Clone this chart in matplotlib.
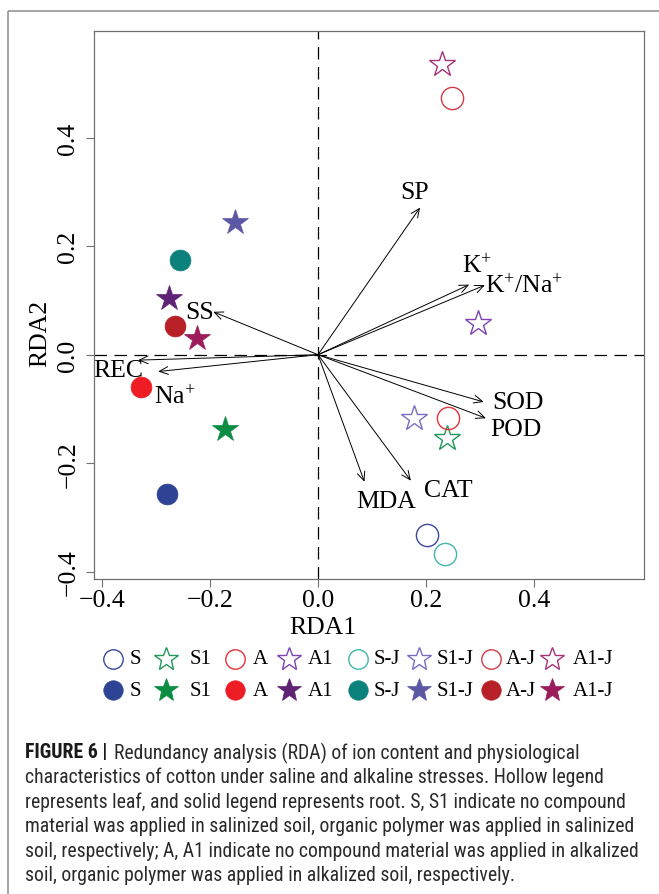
import matplotlib
matplotlib.use('Agg')
import matplotlib.pyplot as plt
from matplotlib import font_manager
from matplotlib.patches import Rectangle

# ---------------- data ----------------
groups = ['S', 'S1', 'A', 'A1', 'S-J', 'S1-J', 'A-J', 'A1-J']
group_markers = ['o', '*', 'o', '*', 'o', '*', 'o', '*']
leaf_colors = ['#3a48a0', '#22985a', '#e53238', '#7c44b4', '#40b8aa', '#7d6cc4', '#d03a48', '#a83478']
root_colors = ['#2f4394', '#0b8c43', '#ee1c25', '#5e2374', '#0b817c', '#5d58a3', '#b72026', '#9b1b5b']

# leaf (hollow) sample scores
leaf_rda1 = [0.201, 0.239, 0.240, 0.296, 0.235, 0.177, 0.249, 0.230]
leaf_rda2 = [-0.332, -0.154, -0.117, 0.058, -0.367, -0.117, 0.473, 0.535]
# root (solid) sample scores
root_rda1 = [-0.280, -0.172, -0.328, -0.276, -0.256, -0.154, -0.265, -0.224]
root_rda2 = [-0.257, -0.136, -0.059, 0.104, 0.174, 0.244, 0.053, 0.030]

# variable arrows
var_labels = ['SP', r'K$^{\mathrm{+}}$', r'K$^{\mathrm{+}}$/Na$^{\mathrm{+}}$', 'SOD', 'POD',
              'MDA', 'CAT', 'SS', 'REC', r'Na$^{\mathrm{+}}$']
arrow_rda1 = [0.189, 0.280, 0.309, 0.307, 0.311, 0.086, 0.172, -0.194, -0.333, -0.296]
arrow_rda2 = [0.271, 0.129, 0.128, -0.087, -0.117, -0.234, -0.232, 0.079, -0.010, -0.031]

x_ticks = [-0.4, -0.2, 0.0, 0.2, 0.4]
y_ticks = [-0.4, -0.2, 0.0, 0.2, 0.4]
x_label = 'RDA1'
y_label = 'RDA2'

caption_bold = 'FIGURE 6 |'
caption_lines = [
    'Redundancy analysis (RDA) of ion content and physiological',
    'characteristics of cotton under saline and alkaline stresses. Hollow legend',
    'represents leaf, and solid legend represents root. S, S1 indicate no compound',
    'material was applied in salinized soil, organic polymer was applied in salinized',
    'soil, respectively; A, A1 indicate no compound material was applied in alkalized',
    'soil, organic polymer was applied in alkalized soil, respectively.',
]

# ---------------- layout ----------------
label_pos = [(0.178, 0.299), (0.294, 0.165), (0.382, 0.128), (0.370, -0.087), (0.367, -0.137),
             (0.127, -0.269), (0.241, -0.250), (-0.220, 0.078), (-0.370, -0.028), (-0.265, -0.076)]
legend_marker_x = [112.6, 166.2, 235.4, 289.0, 357.5, 418.5, 491.4, 551.7]
legend_text_x = [130, 190, 253, 307.5, 374, 437, 506, 573]
legend_row_y = [660, 691]
caption_y = [753, 777.5, 802, 827, 852, 876]

W, H = 659, 895
DPI = 100


def has_font(name):
    try:
        font_manager.findfont(font_manager.FontProperties(family=name), fallback_to_default=False)
        return True
    except Exception:
        return False


serif = 'Liberation Serif' if has_font('Liberation Serif') else 'DejaVu Serif'
cap_fonts = [f for f in ['Liberation Sans Narrow', 'Roboto Condensed', 'Roboto', 'DejaVu Sans'] if has_font(f)]

plt.rcParams['font.family'] = [serif]
plt.rcParams['mathtext.fontset'] = 'custom'
plt.rcParams['mathtext.rm'] = serif
plt.rcParams['mathtext.it'] = serif + ':italic'
plt.rcParams['mathtext.bf'] = serif + ':bold'

fig = plt.figure(figsize=(W / DPI, H / DPI), dpi=DPI)
fig.patch.set_facecolor('white')

# overlay in pixel coordinates
ov = fig.add_axes([0, 0, 1, 1])
ov.set_xlim(0, W)
ov.set_ylim(H, 0)
ov.axis('off')
ov.patch.set_alpha(0)
ov.add_patch(Rectangle((8, 12), W + 20, H + 20, fill=False, edgecolor='#8c8c8c', lw=1.1, clip_on=False))

# main axes
left, right, top, bottom = 94, 644, 32, 580
ax = fig.add_axes([left / W, 1 - bottom / H, (right - left) / W, (bottom - top) / H])
s = 540.0
ax.set_xlim((left - 318) / s, (right - 318) / s)
ax.set_ylim(-(bottom - 355.7) / 543.0, (355.7 - top) / 543.0)
for sp in ax.spines.values():
    sp.set_color('#707070')
    sp.set_linewidth(0.9)
ax.set_xticks(x_ticks)
ax.set_yticks(y_ticks)
ax.set_xticklabels([f'{v:.1f}'.replace('-', '\u2212') for v in x_ticks])
ax.set_yticklabels([f'{v:.1f}'.replace('-', '\u2212') for v in y_ticks], rotation=90, va='center')
ax.tick_params(axis='both', length=5.5, width=0.8, color='#707070', labelsize=18.5)
ax.tick_params(axis='x', pad=2)
ax.tick_params(axis='y', pad=5)

ax.axhline(0, color='black', lw=0.9, dashes=(10, 6), zorder=1)
ax.axvline(0, color='black', lw=0.9, dashes=(10, 6), zorder=1)

# arrows
for x, y in zip(arrow_rda1, arrow_rda2):
    ax.annotate('', xy=(x, y), xytext=(0, 0),
                arrowprops=dict(arrowstyle='->,head_length=0.45,head_width=0.2', lw=0.7,
                                color='black', shrinkA=0, shrinkB=0, mutation_scale=14),
                zorder=2)
for lab, (lx, ly) in zip(var_labels, label_pos):
    ax.text(lx, ly, lab, fontsize=18.5, ha='center', va='center', color='black', zorder=3)

# points
msize = {'o': 15, '*': 19}
for i, g in enumerate(groups):
    m = group_markers[i]
    ax.plot(leaf_rda1[i], leaf_rda2[i], m, ms=msize[m] + (1 if m == 'o' else 0), mfc='none',
            mec=leaf_colors[i], mew=1.0, zorder=4)
    ax.plot(root_rda1[i], root_rda2[i], m, ms=msize[m], mfc=root_colors[i],
            mec=root_colors[i], mew=0.5, zorder=4)

fig.text(323 / W, 1 - 628 / H, x_label, fontsize=18.5, ha='center', va='center')
fig.text(40 / W, 1 - 333 / H, y_label, fontsize=18.5, ha='center', va='center', rotation=90)

# legend rows
lmsize = {'o': 14, '*': 18}
for i, g in enumerate(groups):
    m = group_markers[i]
    ov.plot(legend_marker_x[i], legend_row_y[0], m, ms=lmsize[m], mfc='none', mec=leaf_colors[i], mew=1.0,
            clip_on=False)
    ov.plot(legend_marker_x[i], legend_row_y[1], m, ms=lmsize[m], mfc=root_colors[i], mec=root_colors[i],
            mew=0.5, clip_on=False)
    for r in range(2):
        ov.text(legend_text_x[i], legend_row_y[r], g, fontsize=15, ha='left', va='center', color='black')

# caption
renderer = fig.canvas.get_renderer()
probe = ov.text(0, 0, caption_lines[4], fontsize=12, family=cap_fonts)
wpx = probe.get_window_extent(renderer).width
probe.remove()
cap_fs = 12 * (641 - 25) / wpx

cx0 = 25
tb = ov.text(cx0, caption_y[0], caption_bold, fontsize=cap_fs, family=cap_fonts, weight='bold',
             ha='left', va='center', color='#1a1a1a')
bw = tb.get_window_extent(renderer).width
for k, line in enumerate(caption_lines):
    x0 = cx0 + (bw + 0.35 * cap_fs * DPI / 72 if k == 0 else 0)
    ov.text(x0, caption_y[k], line, fontsize=cap_fs, family=cap_fonts, ha='left', va='center',
            color='#2a2a2a')

fig.savefig('out.png', dpi=DPI, facecolor='white')
